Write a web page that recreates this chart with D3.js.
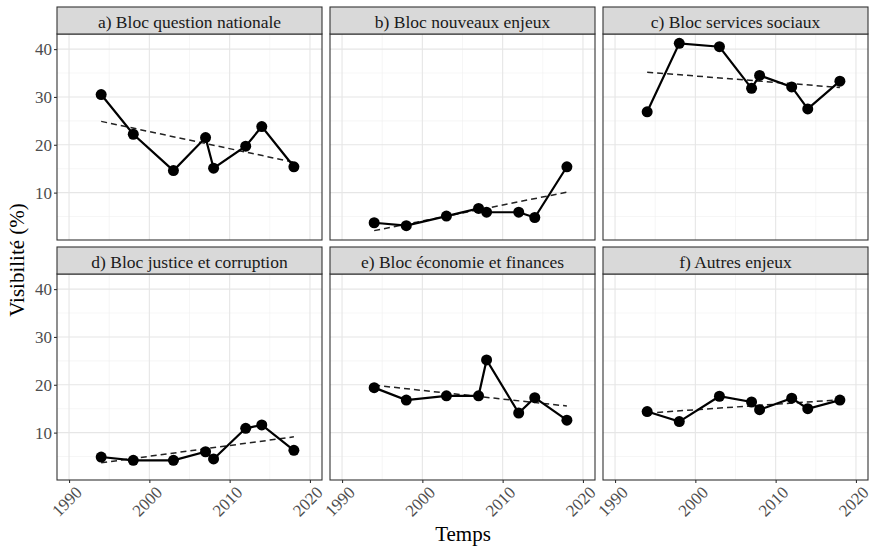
<!DOCTYPE html>
<html>
<head>
<meta charset="utf-8">
<script src="https://cdn.jsdelivr.net/npm/d3@7"></script>
<style>
  body { margin: 0; background: #fff; }
  text { font-family: "Liberation Serif", "DejaVu Serif", serif; }
</style>
</head>
<body>
<div id="container-svg"></div>
<script>

// years of each survey (same for every panel)
var years = [1994, 1998, 2003, 2007, 2008, 2012, 2014, 2018];

var panel_titles = [
    "a) Bloc question nationale",
    "b) Bloc nouveaux enjeux",
    "c) Bloc services sociaux",
    "d) Bloc justice et corruption",
    "e) Bloc économie et finances",
    "f) Autres enjeux"
];

// visibility (%) per panel
var vis_nationale   = [30.5, 22.2, 14.6, 21.5, 15.1, 19.7, 23.8, 15.4];
var vis_nouveaux    = [3.7, 3.1, 5.1, 6.7, 5.9, 5.9, 4.8, 15.4];
var vis_sociaux     = [26.9, 41.2, 40.5, 31.8, 34.5, 32.1, 27.5, 33.3];
var vis_justice     = [4.9, 4.2, 4.2, 6.0, 4.5, 10.9, 11.6, 6.3];
var vis_economie    = [19.4, 16.8, 17.7, 17.7, 25.2, 14.1, 17.3, 12.6];
var vis_autres      = [14.4, 12.3, 17.6, 16.4, 14.8, 17.2, 15.0, 16.8];

var series = [vis_nationale, vis_nouveaux, vis_sociaux, vis_justice, vis_economie, vis_autres];

var x_ticks = [1990, 2000, 2010, 2020];
var y_ticks = [10, 20, 30, 40];

// *********************** GLOBAL DISPLAY VARS ***********************
var svg_width = 869,
    svg_height = 547;

var col_left = [57, 330, 603],
    row_top = [7, 247],
    panel_w = 265,
    strip_h = 27,
    panel_h = 206;

// ******************************* SVG *******************************
var svg = d3.select("#container-svg").append("svg")
    .attr("width", svg_width)
    .attr("height", svg_height);

// least squares fit, like geom_smooth(method = "lm")
function fit(xs, ys) {
    var mx = d3.mean(xs), my = d3.mean(ys);
    var sxy = d3.sum(xs, function(x, i) { return (x - mx) * (ys[i] - my); });
    var sxx = d3.sum(xs, function(x) { return (x - mx) * (x - mx); });
    var b = sxy / sxx;
    return function(x) { return my + b * (x - mx); };
}

var fits = series.map(function(s) { return fit(years, s); });

// ***************************** SCALES ******************************
var x_lo = 1990, x_hi = 2020, x_pad = (x_hi - x_lo) * 0.05;

var all_y = [];
series.forEach(function(s, i) {
    all_y = all_y.concat(s);
    all_y.push(fits[i](years[0]), fits[i](years[years.length - 1]));
});
var y_min = d3.min(all_y), y_max = d3.max(all_y), y_pad = (y_max - y_min) * 0.05;

var scale_x = d3.scaleLinear()
    .domain([x_lo - x_pad, x_hi + x_pad])
    .range([0, panel_w]);

var scale_y = d3.scaleLinear()
    .domain([y_min - y_pad, y_max + y_pad])
    .range([panel_h, 0]);

var x_minor = [1995, 2005, 2015];
var y_minor = [5, 15, 25, 35];

// **************************** PANELS *****************************
series.forEach(function(vals, k) {
    var col = k % 3, row = Math.floor(k / 3);
    var g = svg.append("g")
        .attr("transform", "translate(" + col_left[col] + "," + (row_top[row] + strip_h) + ")");

    // strip
    svg.append("rect")
        .attr("x", col_left[col])
        .attr("y", row_top[row])
        .attr("width", panel_w)
        .attr("height", strip_h)
        .attr("fill", "#d9d9d9")
        .attr("stroke", "#333333")
        .attr("stroke-width", 1.1);
    svg.append("text")
        .attr("x", col_left[col] + panel_w / 2)
        .attr("y", row_top[row] + strip_h / 2 + 1)
        .attr("text-anchor", "middle")
        .attr("dominant-baseline", "central")
        .attr("font-size", 17.5)
        .attr("fill", "#1a1a1a")
        .text(panel_titles[k]);

    // grid
    g.selectAll(".minor-x").data(x_minor).enter().append("line")
        .attr("x1", scale_x).attr("x2", scale_x)
        .attr("y1", 0).attr("y2", panel_h)
        .attr("stroke", "#f0f0f0").attr("stroke-width", 0.6);
    g.selectAll(".minor-y").data(y_minor).enter().append("line")
        .attr("x1", 0).attr("x2", panel_w)
        .attr("y1", scale_y).attr("y2", scale_y)
        .attr("stroke", "#f0f0f0").attr("stroke-width", 0.6);
    g.selectAll(".major-x").data(x_ticks).enter().append("line")
        .attr("x1", scale_x).attr("x2", scale_x)
        .attr("y1", 0).attr("y2", panel_h)
        .attr("stroke", "#e6e6e6").attr("stroke-width", 1.1);
    g.selectAll(".major-y").data(y_ticks).enter().append("line")
        .attr("x1", 0).attr("x2", panel_w)
        .attr("y1", scale_y).attr("y2", scale_y)
        .attr("stroke", "#e6e6e6").attr("stroke-width", 1.1);

    // trend line
    var f = fits[k];
    g.append("line")
        .attr("x1", scale_x(years[0]))
        .attr("y1", scale_y(f(years[0])))
        .attr("x2", scale_x(years[years.length - 1]))
        .attr("y2", scale_y(f(years[years.length - 1])))
        .attr("stroke", "#222")
        .attr("stroke-width", 1.5)
        .attr("stroke-dasharray", "6,4");

    // series line + points
    var pts = years.map(function(y, i) { return [y, vals[i]]; });
    var line = d3.line()
        .x(function(d) { return scale_x(d[0]); })
        .y(function(d) { return scale_y(d[1]); });
    g.append("path")
        .attr("d", line(pts))
        .attr("fill", "none")
        .attr("stroke", "#000")
        .attr("stroke-width", 2.2);
    g.selectAll("circle").data(pts).enter().append("circle")
        .attr("cx", function(d) { return scale_x(d[0]); })
        .attr("cy", function(d) { return scale_y(d[1]); })
        .attr("r", 5.5)
        .attr("fill", "#000");

    // border
    g.append("rect")
        .attr("width", panel_w)
        .attr("height", panel_h)
        .attr("fill", "none")
        .attr("stroke", "#333333")
        .attr("stroke-width", 1.1);

    // y axis on first column
    if (col == 0) {
        var ya = g.append("g").call(d3.axisLeft(scale_y).tickValues(y_ticks).tickSize(3).tickPadding(2));
        ya.select(".domain").remove();
        ya.selectAll("line").attr("stroke", "#333333").attr("stroke-width", 1.1);
        ya.selectAll("text").attr("font-size", 17).attr("fill", "#4d4d4d")
            .attr("font-family", "Liberation Serif");
    }
    // x axis on bottom row
    if (row == 1) {
        var xa = g.append("g")
            .attr("transform", "translate(0," + panel_h + ")")
            .call(d3.axisBottom(scale_x).tickValues(x_ticks).tickFormat(d3.format("d")).tickSize(3));
        xa.select(".domain").remove();
        xa.selectAll("line").attr("stroke", "#333333").attr("stroke-width", 1.1);
        xa.selectAll("text")
            .attr("font-size", 17).attr("fill", "#4d4d4d")
            .attr("font-family", "Liberation Serif")
            .attr("text-anchor", "end")
            .attr("y", 0).attr("dy", "0.7em")
            .attr("transform", "translate(5,5) rotate(-45)");
    }
});

// **************************** AXIS TITLES *****************************
svg.append("text")
    .attr("transform", "translate(24,260) rotate(-90)")
    .attr("text-anchor", "middle")
    .attr("font-size", 21)
    .attr("fill", "#000")
    .text("Visibilité (%)");

svg.append("text")
    .attr("x", 463)
    .attr("y", 541)
    .attr("text-anchor", "middle")
    .attr("font-size", 21)
    .attr("fill", "#000")
    .text("Temps");

</script>
</body>
</html>
